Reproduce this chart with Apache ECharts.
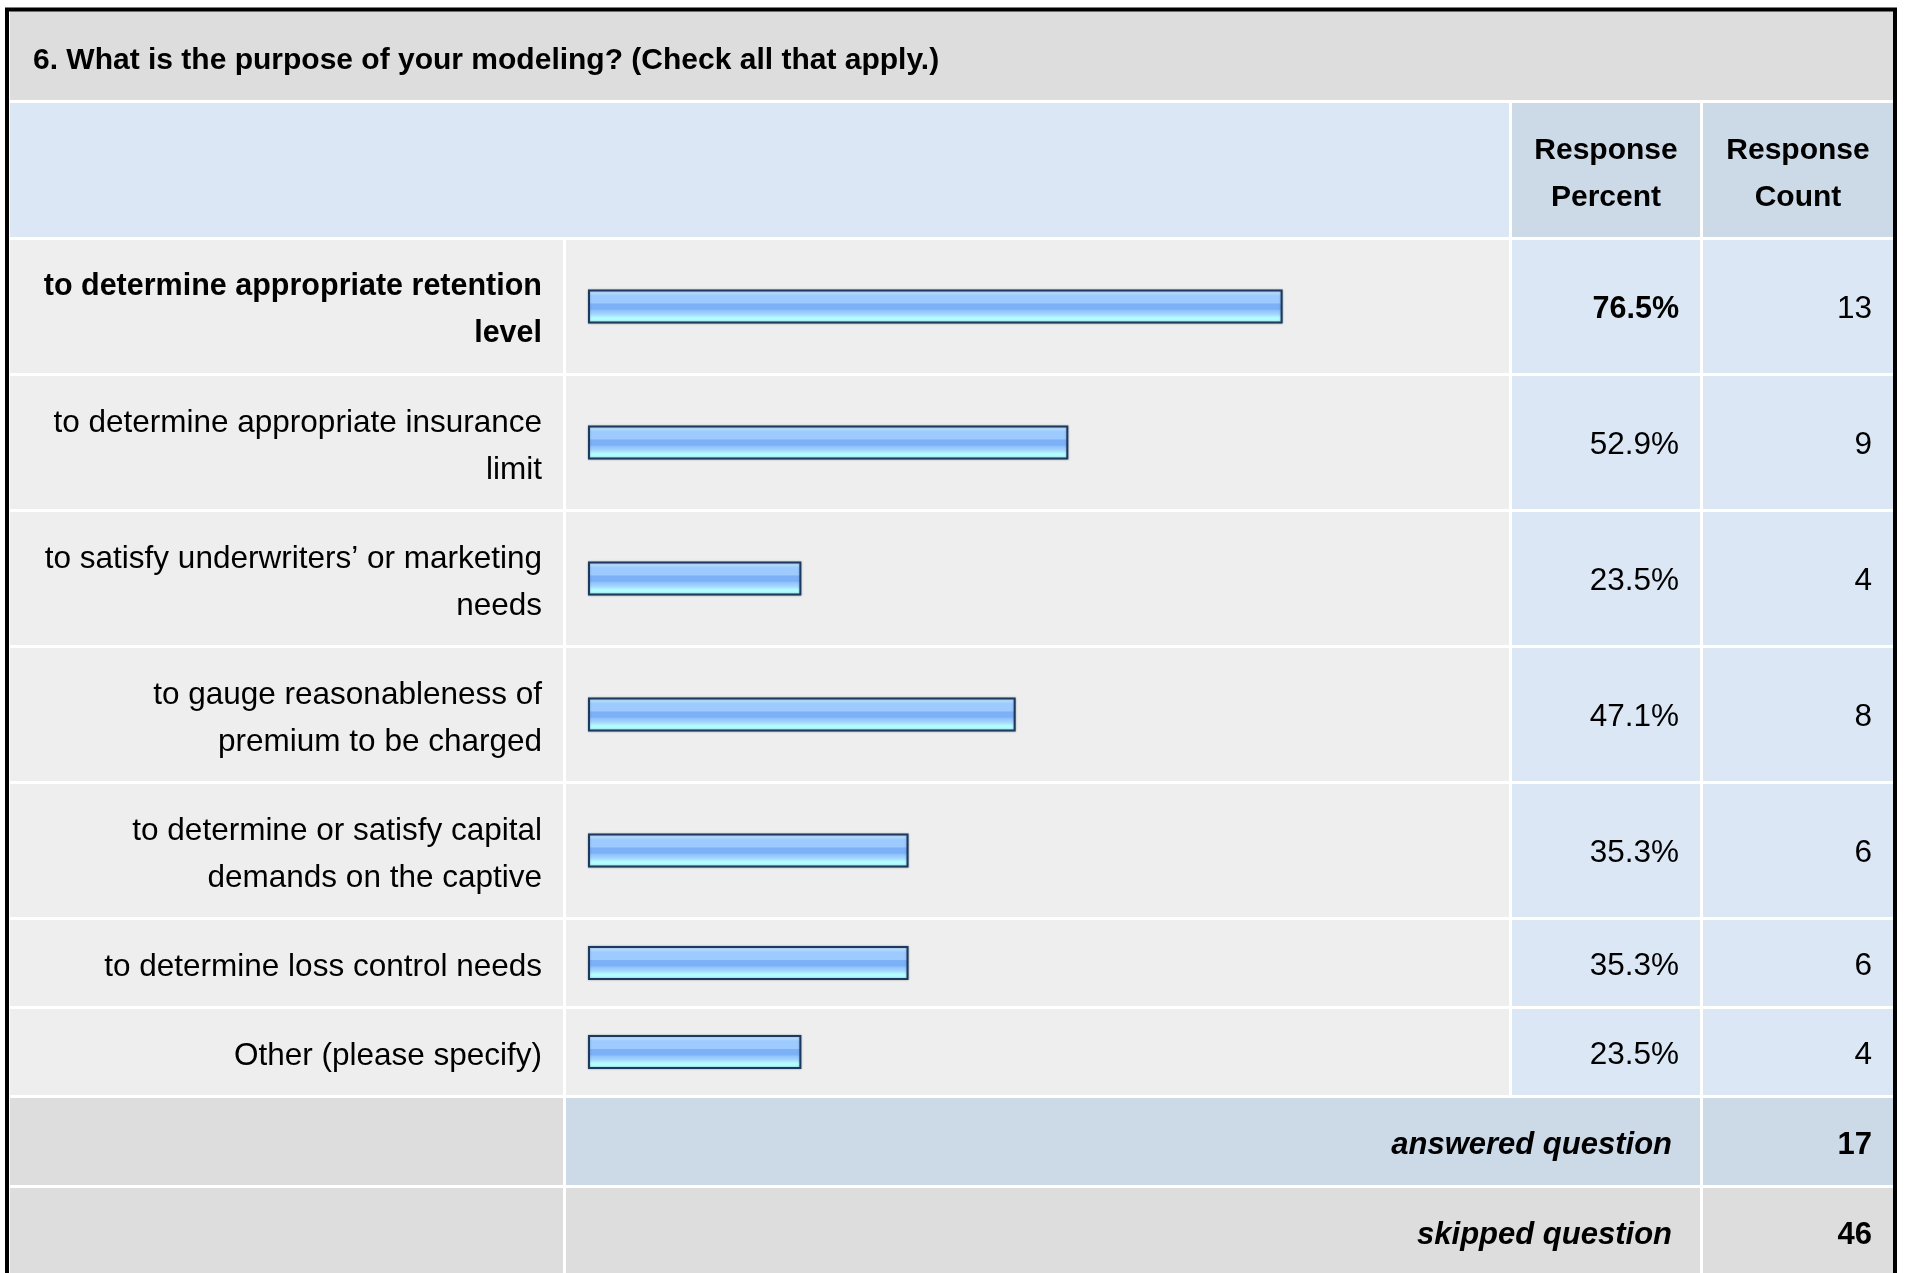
<!DOCTYPE html>
<html>
<head>
<meta charset="utf-8">
<title>6. What is the purpose of your modeling?</title>
<script src="https://cdn.jsdelivr.net/npm/echarts@6/dist/echarts.min.js"></script>
<style>
  html, body { margin: 0; padding: 0; background: #fff; }
  #chart { width: 1907px; height: 1273px; }
</style>
</head>
<body>
<div id="chart"></div>
<script>
/* Survey results table: question 6 (purpose of modeling)
   - table cells + texts are graphic elements
   - bars are real bar series, one small grid per table row */

const question = "6. What is the purpose of your modeling? (Check all that apply.)";
const answerLabels = [
  "to determine appropriate retention\nlevel",
  "to determine appropriate insurance\nlimit",
  "to satisfy underwriters\u2019 or marketing\nneeds",
  "to gauge reasonableness of\npremium to be charged",
  "to determine or satisfy capital\ndemands on the captive",
  "to determine loss control needs",
  "Other (please specify)"
];
const responsePercent = [76.5, 52.9, 23.5, 47.1, 35.3, 35.3, 23.5];
const responseCount = [13, 9, 4, 8, 6, 6, 4];
const headerLabels = ["Response\nPercent", "Response\nCount"];
const footerLabels = ["answered question", "skipped question"];
const footerCounts = [17, 46];

// column edges (px) – match the original layout
const COL = {
  left: 10, labelRight: 563,
  barLeft: 566, barRight: 1509,
  pctLeft: 1512, pctRight: 1700,
  cntLeft: 1703, right: 1893
};
const BAR_LEFT = 588, BAR_FULL = 908;   // 0..100% span of the bars
const GAP = 3;
const FONT = '"Liberation Sans", Arial, Helvetica, sans-serif';

const C = {
  title: "#dddddd",
  head: "#dce7f5",
  headCell: "#ccd9e7",
  rowGray: "#eeeeee",
  rowBlue: "#dce7f5",
  footGray: "#dddddd",
  footBlue: "#ccd9e7",
  text: "#000000"
};

const chart = echarts.init(document.getElementById("chart"), null, { renderer: "canvas" });

function rect(x1, y1, x2, y2, fill) {
  return { type: "rect", z: 0, silent: true,
    shape: { x: x1, y: y1, width: x2 - x1, height: y2 - y1 },
    style: { fill: fill } };
}

function text(str, x, y, opt) {
  opt = opt || {};
  const weight = opt.weight || "normal";
  const style = opt.italic ? "italic " : "";
  const size = opt.size || (weight === "bold" ? 30.5 : 31.5);
  return { type: "text", z: 10, silent: true,
    style: {
      text: str, x: x, y: y,
      fill: C.text,
      font: style + weight + " " + size + "px " + FONT,
      align: opt.align || "right",
      verticalAlign: "middle",
      lineHeight: opt.lineHeight || 47
    } };
}

const graphics = [];

// title band
graphics.push(rect(COL.left, 11, COL.right, 100, C.title));
graphics.push(text(question, 33, 61, { weight: "bold", align: "left", size: 30 }));

// header band
const headTop = 103, headBot = 237;
graphics.push(rect(COL.left, headTop, COL.barRight, headBot, C.head));
graphics.push(rect(COL.pctLeft, headTop, COL.pctRight, headBot, C.headCell));
graphics.push(rect(COL.cntLeft, headTop, COL.right, headBot, C.headCell));
graphics.push(text(headerLabels[0], (COL.pctLeft + COL.pctRight) / 2, 174, { weight: "bold", align: "center", size: 30 }));
graphics.push(text(headerLabels[1], (COL.cntLeft + COL.right) / 2, 174, { weight: "bold", align: "center", size: 30 }));

// data rows
const maxPct = Math.max.apply(null, responsePercent);
const grids = [], xAxes = [], yAxes = [], series = [];
let y = headBot + GAP;

answerLabels.forEach(function (lab, i) {
  const lines = lab.split("\n").length;
  const h = lines > 1 ? 133 : 86;
  const mid = y + h / 2;
  const isMax = responsePercent[i] === maxPct;
  const w = isMax ? "bold" : "normal";

  graphics.push(rect(COL.left, y, COL.labelRight, y + h, C.rowGray));
  graphics.push(rect(COL.barLeft, y, COL.barRight, y + h, C.rowGray));
  graphics.push(rect(COL.pctLeft, y, COL.pctRight, y + h, C.rowBlue));
  graphics.push(rect(COL.cntLeft, y, COL.right, y + h, C.rowBlue));

  graphics.push(text(lab, 542, mid + 4, { weight: w }));
  graphics.push(text(responsePercent[i].toFixed(1) + "%", 1679, mid + 3, { weight: w }));
  graphics.push(text(String(responseCount[i]), 1872, mid + 3));

  grids.push({ left: BAR_LEFT, width: BAR_FULL, top: y, height: h });
  xAxes.push({ gridIndex: i, type: "value", min: 0, max: 100, show: false });
  yAxes.push({ gridIndex: i, type: "category", data: [lab], show: false });
  series.push({
    type: "bar",
    xAxisIndex: i, yAxisIndex: i,
    data: [responsePercent[i]],
    barWidth: 34,
    silent: true,
    animation: false,
    itemStyle: {
      borderColor: "#1c3a60",
      borderWidth: 2,
      shadowColor: "rgba(60,70,90,0.45)",
      shadowBlur: 2,
      color: new echarts.graphic.LinearGradient(0, 0, 0, 1, [
        { offset: 0.00, color: "#d8eefd" },
        { offset: 0.08, color: "#bde0ff" },
        { offset: 0.18, color: "#9dcbff" },
        { offset: 0.40, color: "#9dcbff" },
        { offset: 0.42, color: "#7cb1f8" },
        { offset: 0.58, color: "#7cb1f8" },
        { offset: 0.62, color: "#8fc3fd" },
        { offset: 0.74, color: "#a7d9fe" },
        { offset: 0.83, color: "#b4fdff" },
        { offset: 1.00, color: "#b4fdff" }
      ])
    }
  });

  y += h + GAP;
});

// footer rows
footerLabels.forEach(function (lab, k) {
  const h = 87;
  const mid = y + h / 2;
  const fill = k === 0 ? C.footBlue : C.footGray;
  graphics.push(rect(COL.left, y, COL.labelRight, y + h, C.footGray));
  graphics.push(rect(COL.barLeft, y, COL.pctRight, y + h, fill));
  graphics.push(rect(COL.cntLeft, y, COL.right, y + h, fill));
  graphics.push(text(lab, 1672, mid + 4, { weight: "bold", italic: true, size: 31 }));
  graphics.push(text(String(footerCounts[k]), 1872, mid + 4, { weight: "bold", size: 31 }));
  y += h + GAP;
});

// outer frame
graphics.push({ type: "rect", z: 20, silent: true,
  shape: { x: 7, y: 9.5, width: 1888, height: 1320 },
  style: { fill: "none", stroke: "#000", lineWidth: 4 } });

chart.setOption({
  animation: false,
  backgroundColor: "#ffffff",
  grid: grids,
  xAxis: xAxes,
  yAxis: yAxes,
  series: series,
  graphic: { elements: graphics }
});
</script>
</body>
</html>
